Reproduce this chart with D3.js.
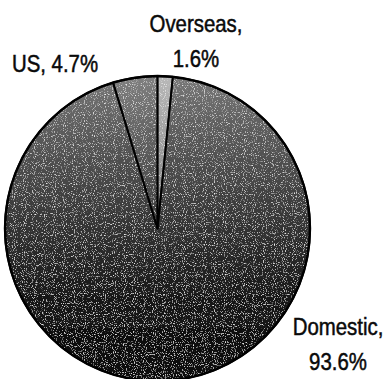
<!DOCTYPE html>
<html>
<head>
<meta charset="utf-8">
<script src="https://cdn.jsdelivr.net/npm/d3@7"></script>
<style>
  html, body { margin: 0; padding: 0; background: #fff; }
  svg { display: block; }
  text { font-family: "Liberation Sans", Arial, sans-serif; fill: #0a0a0a; }
</style>
</head>
<body>
<svg id="chart" width="384" height="379"></svg>
<script>
// Share of sales by market
const categories = ["Overseas", "Domestic", "US"];
const shares = [1.6, 93.6, 4.7];
const labelLines = [["Overseas,", "1.6%"], ["Domestic,", "93.6%"], ["US, 4.7%"]];

const W = 384, H = 379;
const cx = 157.5, cy = 228.5, radius = 152.5;

const svg = d3.select("#chart");
const defs = svg.append("defs");

// vertical shading per slice, lighter at the top of the disc
const stopOffsets = [0, 0.18, 0.5, 0.73, 1];
const shades = {
  Overseas: ["#b8b8b8", "#a2a2a2", "#7a7a7a", "#555555", "#333333"],
  Domestic: ["#787878", "#5c5c5c", "#333333", "#181818", "#060606"],
  US:       ["#808080", "#646464", "#3a3a3a", "#1e1e1e", "#0a0a0a"]
};
categories.forEach((c, i) => {
  const g = defs.append("linearGradient")
    .attr("id", "grad" + i)
    .attr("gradientUnits", "userSpaceOnUse")
    .attr("x1", 0).attr("y1", -radius)
    .attr("x2", 0).attr("y2", radius);
  stopOffsets.forEach((o, k) => {
    g.append("stop").attr("offset", o).attr("stop-color", shades[c][k]);
  });
});

// halftone-like grain for the printed look
const grain = defs.append("filter").attr("id", "grain")
  .attr("filterUnits", "userSpaceOnUse")
  .attr("x", 0).attr("y", 0).attr("width", W).attr("height", H);
grain.append("feTurbulence").attr("type", "fractalNoise")
  .attr("baseFrequency", 0.9).attr("numOctaves", 1).attr("seed", 3).attr("result", "noise");
grain.append("feColorMatrix").attr("in", "noise").attr("type", "matrix")
  .attr("values", "0 0 0 0 0.85  0 0 0 0 0.85  0 0 0 0 0.85  4 0 0 0 -2.25")
  .attr("result", "specks");
grain.append("feComposite").attr("in", "specks").attr("in2", "SourceAlpha")
  .attr("operator", "in").attr("result", "clipped");
const merge = grain.append("feMerge");
merge.append("feMergeNode").attr("in", "SourceGraphic");
merge.append("feMergeNode").attr("in", "clipped");

const pie = d3.pie().sort(null).value(d => d)(shares);
const arc = d3.arc().innerRadius(0).outerRadius(radius);

const root = svg.append("g").attr("filter", "url(#grain)");
const g = root.append("g").attr("transform", `translate(${cx},${cy})`);

g.selectAll("path.slice")
  .data(pie)
  .join("path")
  .attr("class", "slice")
  .attr("d", arc)
  .attr("fill", (d, i) => `url(#grad${i})`);

const edges = svg.append("g").attr("transform", `translate(${cx},${cy})`);
edges.selectAll("path.edge")
  .data(pie)
  .join("path")
  .attr("class", "edge")
  .attr("d", arc)
  .attr("fill", "none")
  .attr("stroke", "#000")
  .attr("stroke-width", 1.8)
  .attr("stroke-linejoin", "round");

edges.append("circle")
  .attr("r", radius)
  .attr("fill", "none")
  .attr("stroke", "#000")
  .attr("stroke-width", 2.4);

// labels outside the pie
const labelPos = [
  { x: 196, y: 32 },
  { x: 338, y: 335 },
  { x: 55, y: 72 }
];
const lineGap = 35;
const stretch = 0.85;

labelLines.forEach((lines, i) => {
  const p = labelPos[i];
  const t = svg.append("text")
    .attr("transform", `translate(${p.x},${p.y}) scale(${stretch},1)`)
    .attr("text-anchor", "middle")
    .attr("font-size", 24)
    .attr("stroke", "#0a0a0a")
    .attr("stroke-width", 0.5);
  lines.forEach((ln, j) => {
    t.append("tspan").attr("x", 0).attr("y", j * lineGap).text(ln);
  });
});
</script>
</body>
</html>
